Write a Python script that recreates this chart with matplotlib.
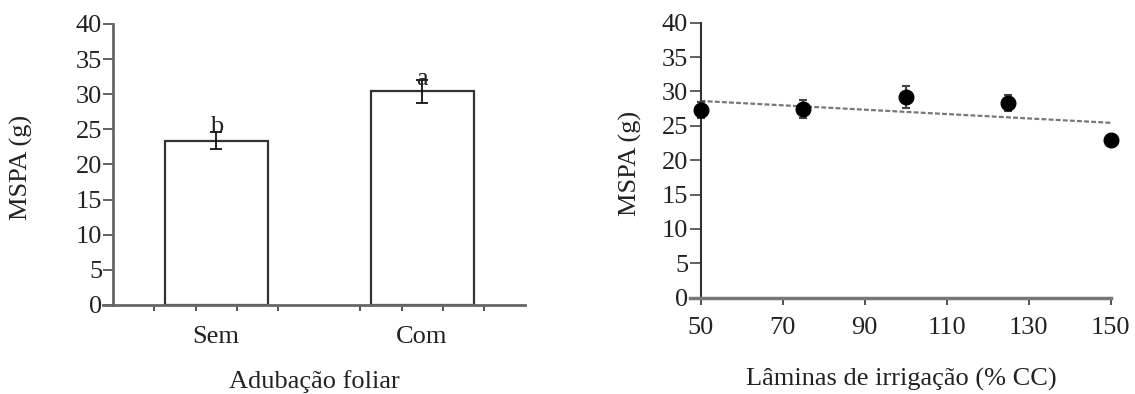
import numpy as np
import matplotlib
matplotlib.use("Agg")
import matplotlib.pyplot as plt

# ---- data ----
adub_categories = ["Sem", "Com"]
adub_means = [23.4, 30.4]
adub_err = [1.25, 1.6]
adub_letters = ["b", "a"]
adub_letter_y = [24.5, 31.3]

laminas = [50, 75, 100, 125, 150]
mspa = [27.3, 27.45, 29.2, 28.3, 22.9]
mspa_err = [1.2, 1.3, 1.6, 1.2, 0.7]

yticks = [0, 5, 10, 15, 20, 25, 30, 35, 40]
xticks_lam = [50, 70, 90, 110, 130, 150]

plt.rcParams['font.family'] = ['Liberation Serif', 'DejaVu Serif']
FS = 19
TXT = '#222222'

fig = plt.figure(figsize=(11.35, 3.94), dpi=100)

# ---- left panel ----
ax1 = fig.add_axes([0.0907, 0.2259, 0.4626 - 0.0907, 0.9391 - 0.2259])
xpos = np.arange(len(adub_categories))
ax1.bar(xpos, adub_means, width=0.5, color='white', edgecolor='#333333', linewidth=1.6, zorder=2)
ax1.errorbar(xpos, adub_means, yerr=adub_err, fmt='none', ecolor='#111111',
             elinewidth=1.3, capsize=4.5, capthick=1.3, zorder=3)
for x, lab, ly in zip(xpos, adub_letters, adub_letter_y):
    ax1.text(x, ly, lab, ha='center', va='baseline', fontsize=FS, color=TXT, zorder=4)
ax1.set_xlim(-0.55, 1.5)
ax1.set_ylim(0, 40)
ax1.spines['left'].set_position(('data', -0.5))
for s in ['top', 'right']:
    ax1.spines[s].set_visible(False)
for s in ['left', 'bottom']:
    ax1.spines[s].set_color('#666666')
    ax1.spines[s].set_linewidth(2.0)
ax1.spines['left'].set_bounds(0, 40)
ax1.set_yticks(yticks)
ax1.set_xticks(xpos)
ax1.set_xticklabels(adub_categories)
minor = [c + d for c in xpos for d in (-0.3, -0.1, 0.1, 0.3)]
ax1.set_xticks(minor, minor=True)
ax1.tick_params(axis='y', direction='out', length=7, width=1.3, color='#555555',
                labelsize=FS, labelcolor=TXT, pad=1)
ax1.tick_params(axis='x', which='major', length=0, labelsize=FS, labelcolor=TXT, pad=15)
ax1.tick_params(axis='x', which='minor', direction='out', length=4, width=1.3, color='#444444')
ax1.set_ylabel("MSPA (g)", fontsize=FS, color=TXT)
ax1.yaxis.set_label_coords(-0.166, 0.49)
ax1.set_xlabel("Adubação foliar", fontsize=FS, color=TXT)
ax1.xaxis.set_label_coords(0.5, -0.232)

# ---- right panel ----
ax2 = fig.add_axes([0.6079, 0.2444, 0.9797 - 0.6079, 0.9424 - 0.2444])
coef = np.polyfit(laminas, mspa, 1)
xl = np.array([min(laminas), max(laminas)])
ax2.plot(xl, np.polyval(coef, xl), linestyle=(0, (2.2, 1.0)), color='#777777', linewidth=1.6, zorder=2)
ax2.errorbar(laminas, mspa, yerr=mspa_err, fmt='o', color='black', markersize=10.5,
             ecolor='#444444', elinewidth=1.5, capsize=3, capthick=1.5, zorder=3, clip_on=False)
ax2.set_xlim(47.4, 150.3)
ax2.set_ylim(0, 40)
ax2.spines['left'].set_position(('data', 50))
for s in ['top', 'right']:
    ax2.spines[s].set_visible(False)
ax2.spines['left'].set_color('#333333')
ax2.spines['left'].set_linewidth(1.5)
ax2.spines['left'].set_bounds(0, 40)
ax2.spines['bottom'].set_color('#777777')
ax2.spines['bottom'].set_linewidth(2.5)
ax2.spines['bottom'].set_bounds(47.4, 150)
ax2.set_yticks(yticks)
ax2.set_xticks(xticks_lam)
ax2.tick_params(axis='y', direction='out', length=8, width=1.3, color='#555555',
                labelsize=FS, labelcolor=TXT, pad=1)
ax2.tick_params(axis='x', direction='out', length=5, width=1.3, color='#444444',
                labelsize=FS, labelcolor=TXT, pad=9)
ax2.set_ylabel("MSPA (g)", fontsize=FS, color=TXT)
ax2.yaxis.set_label_coords(-0.114, 0.49)
ax2.set_xlabel("Lâminas de irrigação (% CC)", fontsize=FS, color=TXT)
ax2.xaxis.set_label_coords(0.5, -0.255)

fig.savefig("out.png", dpi=100)
